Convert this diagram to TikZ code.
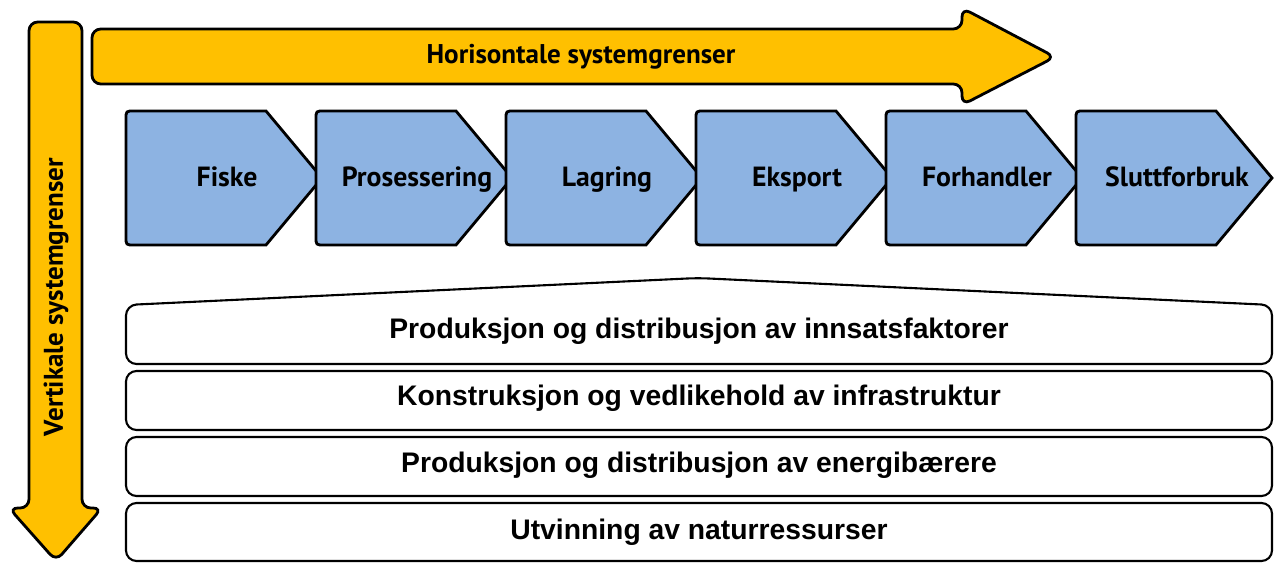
\documentclass[tikz,border=0pt]{standalone}
\usepackage{fontspec}
\setmainfont{Liberation Sans}
\newfontfamily\dinfont{PT Sans}
\definecolor{gul}{HTML}{FFC000}
\definecolor{blaa}{HTML}{8DB3E2}

\begin{document}
\begin{tikzpicture}[x=0.02cm, y=-0.02cm,
    pil/.style={draw=black, line width=1.6pt, fill=gul, rounded corners=5pt},
    ledd/.style={draw=black, line width=1.6pt, fill=blaa},
    lag/.style={draw=black, line width=1.2pt, fill=white, rounded corners=6pt},
    piltekst/.style={font=\dinfont\bfseries\fontsize{15.4}{18}\selectfont},
    leddtekst/.style={anchor=base, font=\dinfont\bfseries\fontsize{15.8}{18}\selectfont},
    lagtekst/.style={anchor=base, font=\bfseries\fontsize{16.1}{19}\selectfont}]

    \useasboundingbox (0,0) rectangle (1274,563);

    % Horisontal pil
    \draw[pil] (92,29) -- (962,29) -- (962,8) -- (1055,57) -- (962,105) -- (962,84) -- (92,84) -- cycle;
    \node[piltekst] (horisontal) at (581,57) {Horisontale systemgrenser};

    % Vertikal pil
    \draw[pil] (29,22) -- (82,22) -- (82,508) -- (102,508) -- (56,561) -- (9,508) -- (29,508) -- cycle;
    \node[piltekst, rotate=90] (vertikal) at (56,297) {Vertikale systemgrenser};

    % Verdikjedeledd
    \foreach \navn [count=\i from 0] in {Fiske, Prosessering, Lagring, Eksport, Forhandler, Sluttforbruk} {
        \pgfmathsetmacro{\x}{126+190*\i}
        \draw[ledd] (\x+140,111) -- (\x+8,111) .. controls (\x,111) .. (\x,119) -- (\x,237)
            .. controls (\x,245) .. (\x+8,245) -- (\x+140,245) -- (\x+196,178) -- cycle;
        \node[leddtekst] (ledd\i) at (\x+101,187) {\navn};
    }

    % Lag under verdikjeden
    \draw[lag] (126,364) -- (1272,364) -- (1272,305) -- (698,278) -- (126,305) -- cycle;
    \node[lagtekst] (lag1) at (699,339) {Produksjon og distribusjon av innsatsfaktorer};

    \draw[lag] (126,371) rectangle (1272,430);
    \node[lagtekst] (lag2) at (699,406) {Konstruksjon og vedlikehold av infrastruktur};

    \draw[lag] (126,437) rectangle (1272,496);
    \node[lagtekst] (lag3) at (699,473) {Produksjon og distribusjon av energibærere};

    \draw[lag] (126,503) rectangle (1272,561);
    \node[lagtekst] (lag4) at (699,540) {Utvinning av naturressurser};

\end{tikzpicture}
\end{document}
